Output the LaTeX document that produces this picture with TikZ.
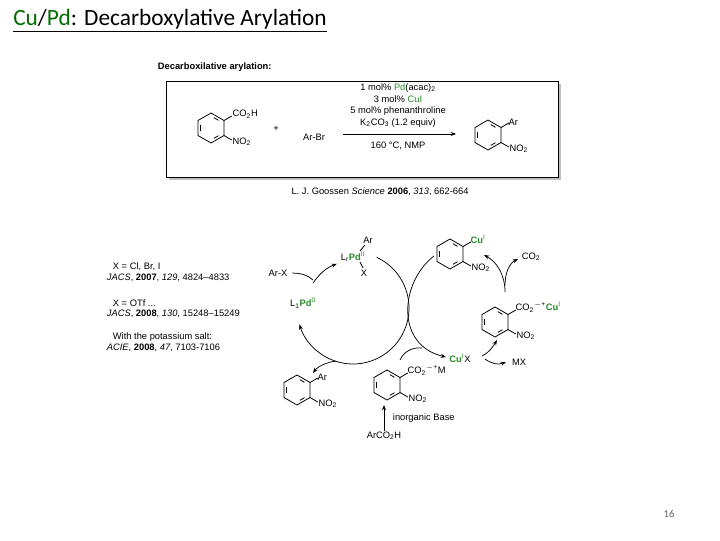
\documentclass[tikz,border=0pt]{standalone}
\usepackage{fontspec}
\setmainfont{Liberation Sans}
\newfontfamily\titlefont{Carlito}
\usetikzlibrary{arrows.meta,calc}
\definecolor{chemgreen}{RGB}{40,140,40}
\definecolor{titlegreen}{RGB}{0,110,0}
\newcommand\sbs[1]{\textsubscript{#1}}
\newcommand\sps[1]{\textsuperscript{#1}}
\newcommand\gr[1]{\textcolor{chemgreen}{#1}}
\begin{document}
\begin{tikzpicture}[x=0.75pt,y=-0.75pt,
  chem/.style={font=\fontsize{7}{8}\selectfont,inner sep=0.5pt},
  bnd/.style={line width=0.6pt},
  arr/.style={line width=0.55pt,-{Stealth[length=4pt,width=3pt]}},
  benz/.pic={
    \draw[bnd] (13,7.5)--(0,15)--(-13,7.5)--(-13,-7.5)--(0,-15)--(13,-7.5)--cycle;
    \draw[bnd,shorten >=2.5pt,shorten <=2.5pt] (-10.4,6)--(-10.4,-6);
    \draw[bnd,shorten >=2.5pt,shorten <=2.5pt] (0,-12)--(10.4,-6);
    \draw[bnd,shorten >=2.5pt,shorten <=2.5pt] (10.4,6)--(0,12);
    \draw[bnd] (13,-7.5)--++(7.8,-4.5) coordinate (-t);
    \draw[bnd] (13,7.5)--++(7.8,4.5) coordinate (-b);
  }]
\useasboundingbox (0,0) rectangle (720,540);
\fill[white] (0,0) rectangle (720,540);
% title
\node[anchor=south west,inner sep=0,font=\titlefont\fontsize{17.5}{20}\selectfont] (title) at (13,32)
  {\underline{\textcolor{titlegreen}{Cu}/\textcolor{titlegreen}{Pd}: Decarboxylative Arylation}};
\node[font=\titlefont\fontsize{8}{9}\selectfont,text=gray!80!black] (pg) at (669,514) {16};
% top scheme
\node[chem,anchor=west,font=\bfseries\fontsize{7}{8}\selectfont] (hd) at (157,67) {Decarboxilative arylation:};
\fill[gray!50] (169,84) rectangle (561,180);
\draw[fill=white,line width=0.6pt] (166,81) rectangle (558,177);
\pic (r1) at (211,128) {benz};
\node[chem,anchor=south west] (l1) at ($(r1-t)+(0,3)$) {CO\sbs{2}H};
\node[chem,anchor=west] (l2) at ($(r1-b)+(0,2)$) {NO\sbs{2}};
\node[chem] (plus) at (276,129) {+};
\node[chem] (arbr) at (314,137) {Ar-Br};
\coordinate (a1) at (343,134);
\coordinate (a2) at (456,134);
\draw[arr] (a1)--(a2);
\node[chem] (c1) at (398,88) {1 mol\% \gr{Pd}(acac)\sbs{2}};
\node[chem] (c2) at (398,99) {3 mol\% \gr{CuI}};
\node[chem] (c3) at (398,111) {5 mol\% phenanthroline};
\node[chem] (c4) at (398,123) {K\sbs{2}CO\sbs{3} (1.2 equiv)};
\node[chem] (c5) at (398,146) {160 °C, NMP};
\pic (r2) at (488,135) {benz};
\node[chem,anchor=south west] (l3) at ($(r2-t)+(-1,3)$) {Ar};
\node[chem,anchor=west] (l4) at ($(r2-b)+(0,2)$) {NO\sbs{2}};
\node[chem] (cite) at (380,192) {L. J. Goossen \textit{Science} \textbf{2006}, \textit{313}, 662-664};
% left references
\node[chem,anchor=west] (t1) at (112,267) {X = Cl, Br, I};
\node[chem,anchor=west] (t2) at (106,278) {\textit{JACS}, \textbf{2007}, \textit{129}, 4824--4833};
\node[chem,anchor=west] (t3) at (112,303) {X = OTf ...};
\node[chem,anchor=west] (t4) at (106,314) {\textit{JACS}, \textbf{2008}, \textit{130}, 15248--15249};
\node[chem,anchor=west] (t5) at (112,337) {With the potassium salt:};
\node[chem,anchor=west] (t6) at (106,348) {\textit{ACIE}, \textbf{2008}, \textit{47}, 7103-7106};
% Pd cycle
\coordinate (pc) at (353,308);
\node[chem] (pd2) at (353,257) {L\sbs{r}\gr{\textbf{Pd}}\sps{\gr{II}}};
\node[chem] (ar) at (368,240) {Ar};
\node[chem] (x) at (364,273) {X};
\draw[bnd] (360,251)--(365,245);
\draw[bnd] (360,262)--(363,268);
\node[chem] (pd0) at (303,303) {L\sbs{1}\gr{\textbf{Pd}}\sps{\gr{0}}};
\node[chem] (arx) at (278,273) {Ar-X};
\draw[arr] ($(pc)+(212:47)$) arc[start angle=212,end angle=250,radius=47];
\draw[arr] ($(pc)+(295:56)$) arc[start angle=295,end angle=523,radius=56];
\draw[arr,-] (arx.east) ++(4,0) .. controls (300,273) and (308,275) .. (313,280);
\draw[arr] (336,361) .. controls (328,362) and (318,366) .. (313,373);
\pic (r3) at (297,390) {benz};
\node[chem,anchor=south west] (l5) at ($(r3-t)+(-1,3)$) {Ar};
\node[chem,anchor=west] (l6) at ($(r3-b)+(0,2)$) {NO\sbs{2}};
% Cu cycle
\pic (r4) at (450,254) {benz};
\node[chem,anchor=south west] (l7) at ($(r4-t)+(-1,3)$) {\gr{\textbf{Cu}}\sps{\gr{I}}};
\node[chem,anchor=west] (l8) at ($(r4-b)+(0,2)$) {NO\sbs{2}};
\node[chem] (cux) at (460,358) {\gr{\textbf{Cu}}\sps{\gr{I}}X};
\draw[arr] (434,256) .. controls (400,282) and (395,345) .. (446,357);
\pic (r5) at (495,322) {benz};
\node[chem,anchor=south west] (l9) at ($(r5-t)+(-1,3)$) {CO\sbs{2}\sps{$-$+}\gr{\textbf{Cu}}\sps{\gr{I}}};
\node[chem,anchor=west] (l10) at ($(r5-b)+(0,2)$) {NO\sbs{2}};
\draw[arr] (482,356) .. controls (490,352) and (494,345) .. (497,340);
\draw[arr] (485,359) .. controls (492,364) and (498,365) .. (506,362);
\node[chem] (mx) at (519,362) {MX};
\draw[arr] (505,292) .. controls (505,275) and (497,262) .. (484,255);
\draw[arr] (505,285) .. controls (505,272) and (510,263) .. (518,259);
\node[chem] (co2) at (531,257) {CO\sbs{2}};
\pic (r6) at (387,385) {benz};
\node[chem,anchor=south west] (l11) at ($(r6-t)+(-1,3)$) {CO\sbs{2}\sps{$-$+}M};
\node[chem,anchor=west] (l12) at ($(r6-b)+(0,2)$) {NO\sbs{2}};
\draw[arr,-] (400,360) .. controls (404,351) and (413,347) .. (422,348);
\node[chem] (aco) at (384,436) {ArCO\sbs{2}H};
\draw[arr] (aco.north) -- (384,405);
\node[chem,anchor=west] (base) at (392,418) {inorganic Base};
\end{tikzpicture}
\end{document}
